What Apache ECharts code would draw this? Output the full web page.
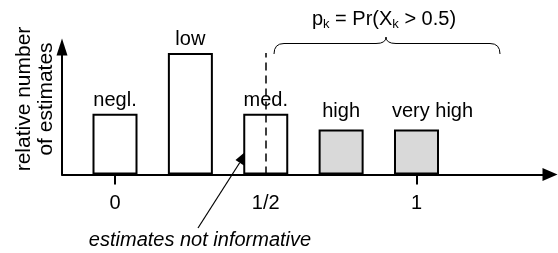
<!DOCTYPE html>
<html>
<head>
<meta charset="utf-8">
<script src="https://cdn.jsdelivr.net/npm/echarts@6.0.0/dist/echarts.min.js"></script>
<style>
html, body { margin: 0; padding: 0; background: #fff; }
#chart { width: 558px; height: 253px; }
</style>
</head>
<body>
<div id="chart"></div>
<script>
// estimate classes along the x axis
const levels = ['negl.', 'low', 'med.', 'high', 'very high']
const positions = [0, 0.25, 0.5, 0.75, 1]
const counts = [0.5, 1, 0.5, 0.37, 0.37]

const tickValues = [0, 0.5, 1]
const tickLabels = ['0', '1/2', '1']
const majorTicks = [0, 1]
const threshold = 0.5

const font = "'Liberation Sans', Arial, Helvetica, sans-serif"
const fs = 20

const barData = positions.map((x, i) => ({
    name: levels[i],
    value: [x, counts[i]],
    itemStyle: { color: x > threshold ? '#d9d9d9' : '#ffffff' },
    label: {
        distance: x > threshold ? 8 : 3,
        offset: i === levels.length - 1 ? [16, 0] : [0, 0]
    }
}))

let myChart = echarts.init(document.getElementById('chart'))

// arrow pointing at the med. bar
const from = [198, 228], tip = [248.3, 149.3]
const dx = tip[0] - from[0], dy = tip[1] - from[1]
const len = Math.sqrt(dx * dx + dy * dy)
const ux = dx / len, uy = dy / len
const headL = 16, headW = 5
const base = [tip[0] - headL * ux, tip[1] - headL * uy]

// curly brace over the informative classes
const braceL = 274, braceR = 500, braceM = 386, braceY = 43.5, braceEnd = 54, braceTop = 37
const braceStyle = { stroke: '#000', lineWidth: 1, fill: null }
const brace = [
    { type: 'bezierCurve', shape: { x1: braceL, y1: braceEnd, cpx1: braceL, cpy1: braceY, x2: braceL + 10, y2: braceY }, style: braceStyle },
    { type: 'line', shape: { x1: braceL + 10, y1: braceY, x2: braceM - 10, y2: braceY }, style: braceStyle },
    { type: 'bezierCurve', shape: { x1: braceM - 10, y1: braceY, cpx1: braceM, cpy1: braceY, x2: braceM, y2: braceTop }, style: braceStyle },
    { type: 'bezierCurve', shape: { x1: braceM, y1: braceTop, cpx1: braceM, cpy1: braceY, x2: braceM + 10, y2: braceY }, style: braceStyle },
    { type: 'line', shape: { x1: braceM + 10, y1: braceY, x2: braceR - 10, y2: braceY }, style: braceStyle },
    { type: 'bezierCurve', shape: { x1: braceR - 10, y1: braceY, cpx1: braceR, cpy1: braceY, x2: braceR, y2: braceEnd }, style: braceStyle }
]

myChart.setOption({
    animation: false,
    textStyle: { fontFamily: font },
    grid: { left: 62, right: 8, top: 47, bottom: 78.5 },
    xAxis: {
        type: 'value',
        min: -0.1758,
        max: 1.4428,
        axisLine: {
            onZero: false,
            symbol: ['none', 'triangle'],
            symbolSize: [13, 15],
            lineStyle: { color: '#000', width: 2 }
        },
        axisTick: {
            customValues: majorTicks,
            length: 10,
            lineStyle: { color: '#000', width: 2 }
        },
        axisLabel: {
            customValues: tickValues,
            formatter: v => tickLabels[tickValues.indexOf(v)],
            color: '#000',
            fontSize: fs,
            fontFamily: font,
            margin: 19
        },
        splitLine: { show: false }
    },
    yAxis: {
        type: 'value',
        min: 0,
        max: 1.049,
        axisLine: {
            show: true,
            onZero: false,
            symbol: ['none', 'triangle'],
            symbolSize: [11, 17],
            lineStyle: { color: '#000', width: 2 }
        },
        axisTick: { show: false },
        axisLabel: { show: false },
        splitLine: { show: false }
    },
    series: [{
        type: 'bar',
        data: barData,
        barWidth: 45,
        itemStyle: { borderColor: '#000', borderWidth: 2 },
        label: {
            show: true,
            position: 'top',
            formatter: p => p.name,
            color: '#000',
            fontSize: fs,
            fontFamily: font
        },
        markLine: {
            silent: true,
            symbol: ['none', 'none'],
            label: { show: false },
            lineStyle: { color: '#000', type: [8, 5], width: 1.5 },
            data: [[{ coord: [threshold, 0] }, { coord: [threshold, Math.max(...counts)] }]]
        }
    }],
    graphic: [
        {
            type: 'text',
            x: 35, y: 99,
            rotation: Math.PI / 2,
            style: {
                text: 'relative number\nof estimates',
                font: '21px ' + font,
                fill: '#000',
                align: 'center',
                verticalAlign: 'middle',
                lineHeight: 22
            }
        },
        {
            type: 'text',
            x: 384, y: 19,
            style: {
                text: '{n|p}{s|k}{n| = Pr(X}{s|k}{n| > 0.5)}',
                align: 'center',
                verticalAlign: 'middle',
                fill: '#000',
                rich: {
                    n: { fontSize: fs, fontFamily: font, lineHeight: 24, color: '#000' },
                    s: { fontSize: 13, fontFamily: font, lineHeight: 13, verticalAlign: 'bottom', color: '#000' }
                }
            }
        },
        ...brace,
        {
            type: 'line',
            shape: { x1: from[0], y1: from[1], x2: base[0], y2: base[1] },
            style: { stroke: '#000', lineWidth: 1.2 }
        },
        {
            type: 'polygon',
            shape: {
                points: [
                    tip,
                    [base[0] - headW * uy, base[1] + headW * ux],
                    [base[0] + headW * uy, base[1] - headW * ux]
                ]
            },
            style: { fill: '#000' }
        },
        {
            type: 'text',
            x: 200, y: 240,
            style: {
                text: 'estimates not informative',
                font: 'italic ' + fs + 'px ' + font,
                fill: '#000',
                align: 'center',
                verticalAlign: 'middle'
            }
        }
    ]
})
</script>
</body>
</html>
